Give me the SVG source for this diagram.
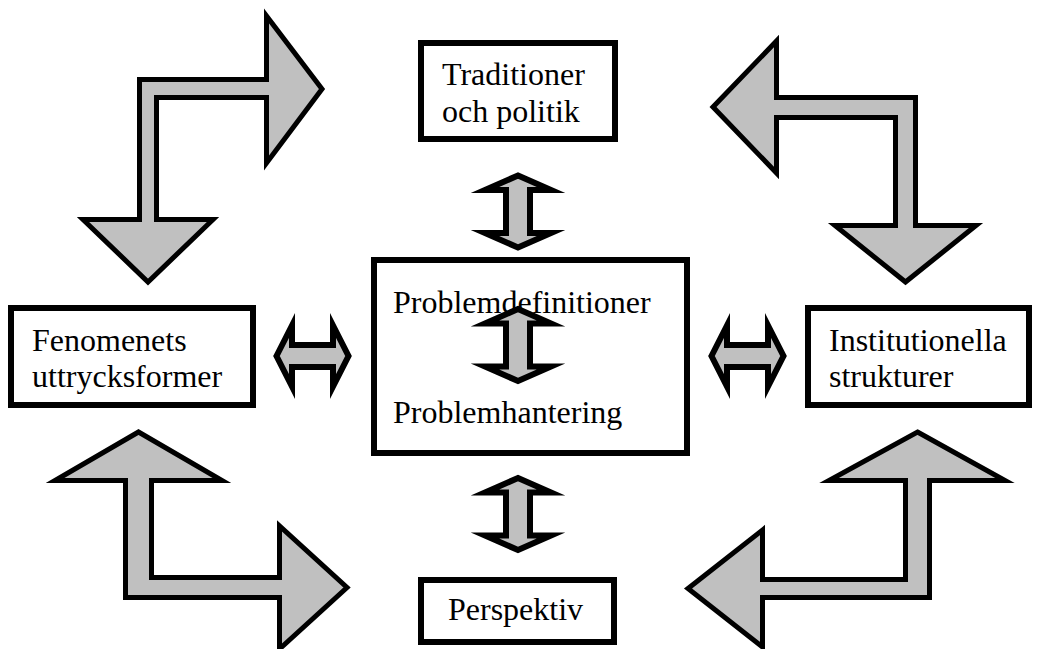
<svg xmlns="http://www.w3.org/2000/svg" width="1042" height="649" viewBox="0 0 1042 649">
<style>
.box{fill:#fff;stroke:#000;stroke-width:6}
.txt{font-family:"Liberation Serif","Times New Roman",serif;font-size:32px;fill:#000}
.bent{fill:#c0c0c0;stroke:#000;stroke-width:5;stroke-linejoin:miter;stroke-miterlimit:10}
.dbl{fill:#c0c0c0;stroke:#000;stroke-width:6;stroke-linejoin:miter;stroke-miterlimit:10}
</style>
<defs>
<path id="dv" d="M0,-36 L33,-21.5 L12,-21.5 L12,21.5 L33,21.5 L0,36 L-33,21.5 L-12,21.5 L-12,-21.5 L-33,-21.5 Z"/>
<path id="dh" d="M-36,0 L-20.5,-30.5 L-20.5,-11 L20.5,-11 L20.5,-30.5 L36,0 L20.5,30.5 L20.5,11 L-20.5,11 L-20.5,30.5 Z"/>
</defs>
<rect width="1042" height="649" fill="#fff"/>
<g id="node-traditioner">
<rect class="box" x="421" y="43" width="194" height="96"/>
<text class="txt" x="442" y="85">Traditioner</text>
<text class="txt" x="442" y="122">och politik</text>
</g>
<g id="node-center">
<rect class="box" x="374" y="260" width="313" height="193"/>
<text class="txt" x="393" y="313">Problemdefinitioner</text>
<text class="txt" x="393" y="423">Problemhantering</text>
</g>
<g id="node-fenomenets">
<rect class="box" x="11" y="308" width="242" height="97"/>
<text class="txt" x="32" y="351">Fenomenets</text>
<text class="txt" x="32" y="387">uttrycksformer</text>
</g>
<g id="node-institutionella">
<rect class="box" x="808" y="308" width="221" height="97"/>
<text class="txt" x="829" y="351">Institutionella</text>
<text class="txt" x="829" y="387">strukturer</text>
</g>
<g id="node-perspektiv">
<rect class="box" x="421" y="580" width="193" height="62"/>
<text class="txt" x="448" y="620">Perspektiv</text>
</g>
<g id="connectors">
<path class="bent" d="M139.5,219.5 L83,219.5 L148,282 L213,219.5 L156.5,219.5 L156.5,97.5 L266.5,97.5 L266.5,163 L322,89 L266.5,16 L266.5,79.5 L139.5,79.5 Z"/>
<path class="bent" d="M713,107 L776.5,41 L776.5,97.5 L915.5,97.5 L915.5,225.5 L976,225.5 L905.5,282 L835,225.5 L895.5,225.5 L895.5,117.5 L776.5,117.5 L776.5,173 Z"/>
<path class="bent" d="M138.5,432 L222,480.5 L151.5,480.5 L151.5,577.5 L279.5,577.5 L279.5,526 L347,587.5 L279.5,649 L279.5,597.5 L125.5,597.5 L125.5,480.5 L55,480.5 Z"/>
<path class="bent" d="M917.5,432 L1005,480.5 L929.5,480.5 L929.5,597.5 L762.5,597.5 L762.5,647 L688,588.5 L762.5,530 L762.5,579.5 L905.5,579.5 L905.5,480.5 L829,480.5 Z"/>
<use href="#dv" class="dbl" transform="translate(518,211.5)"/>
<use href="#dv" class="dbl" transform="translate(518,345)"/>
<use href="#dv" class="dbl" transform="translate(518,514)"/>
<use href="#dh" class="dbl" transform="translate(312.5,356)"/>
<use href="#dh" class="dbl" transform="translate(747.5,356)"/>
</g>
</svg>
